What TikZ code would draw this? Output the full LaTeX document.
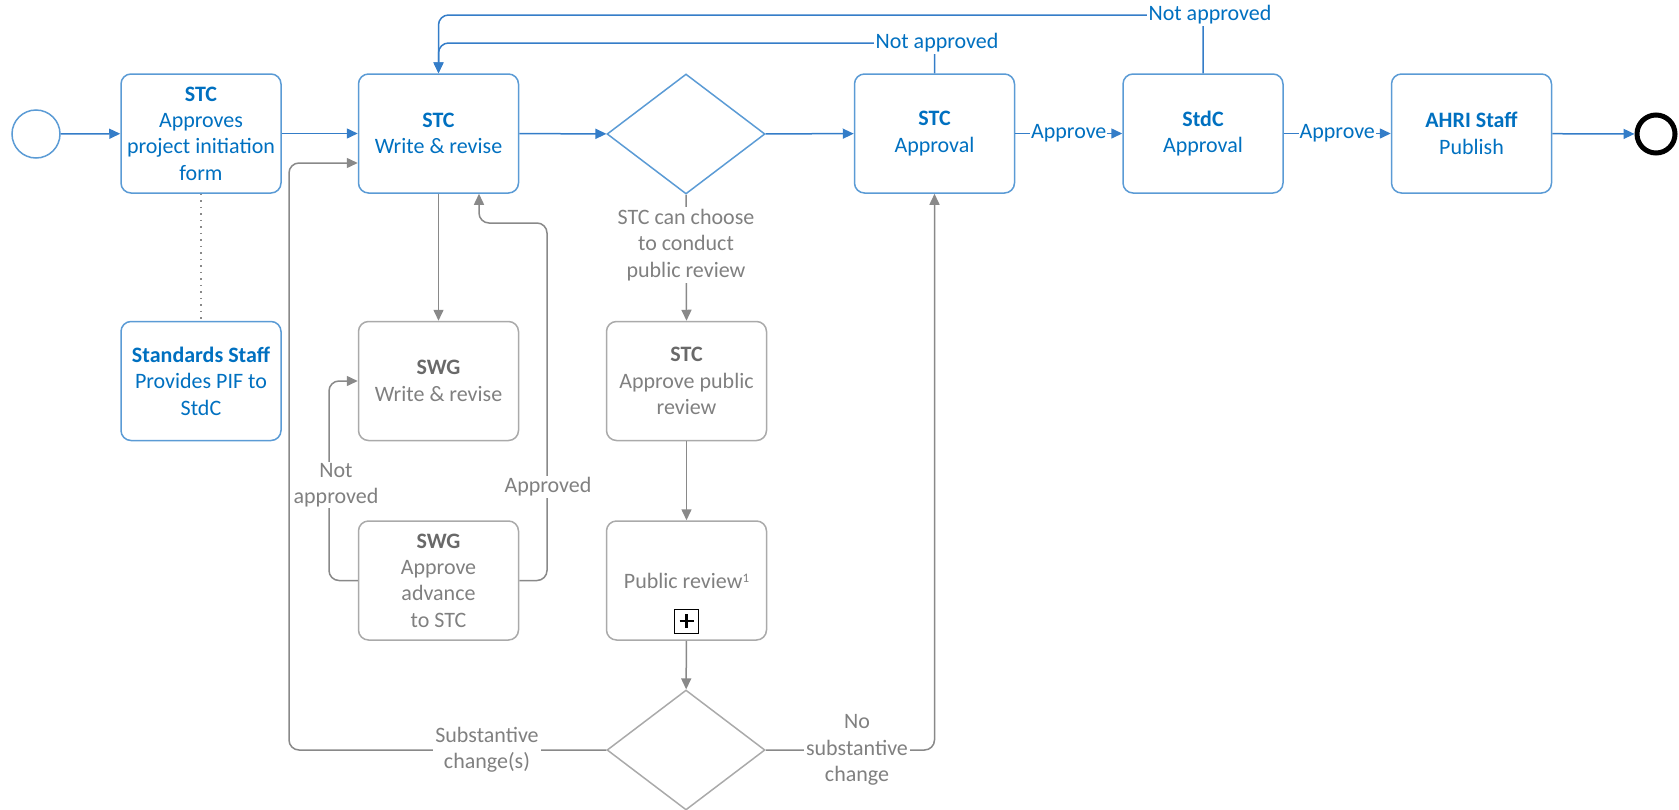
\documentclass[tikz,border=0pt]{standalone}
\usepackage{fontspec}
\setmainfont{Carlito}
\usetikzlibrary{shapes.geometric,arrows.meta,calc}
\definecolor{bluetxt}{RGB}{0,112,192}
\definecolor{bluebd}{RGB}{91,155,213}
\definecolor{blueln}{RGB}{52,125,200}
\definecolor{greytxt}{RGB}{128,128,128}
\definecolor{greyhd}{RGB}{105,105,105}
\definecolor{greybd}{RGB}{170,170,170}
\definecolor{greyln}{RGB}{137,137,137}
\tikzset{
  txt/.style={font=\fontsize{22}{26.4}\selectfont, align=center},
  task/.style={txt, draw=bluebd, line width=1.5pt, rounded corners=10pt,
    minimum width=160pt, minimum height=119pt, text=bluetxt, inner sep=2pt},
  gtask/.style={task, draw=greybd, text=greytxt},
  dia/.style={diamond, minimum width=158pt, minimum height=120pt, inner sep=0pt, line width=1.5pt},
  barrow/.style={draw=blueln, line width=1.5pt, -{Triangle[length=11pt,width=10pt]}},
  garrow/.style={draw=greyln, line width=1.5pt, -{Triangle[length=11pt,width=10pt]}},
  blbl/.style={txt, fill=white, text=bluetxt, inner sep=2pt},
  glbl/.style={txt, fill=white, text=greytxt, inner sep=2pt},
}
\begin{document}
\begin{tikzpicture}[x=1pt,y=-1pt]
\useasboundingbox (0,0) rectangle (1679,809);
% main row
\node[circle, draw=bluebd, line width=1.5pt, minimum size=48pt, inner sep=0pt] (start) at (36,134) {};
\node[task] (b1) at (201,133.5) {\textbf{STC}\\Approves\\project initiation\\form};
\node[task] (b2) at (438.5,133.5) {\textbf{STC}\\Write \& revise};
\node[dia, draw=bluebd] (d1) at (686,134) {};
\node[task] (apr) at (934.5,133.5) {\textbf{STC}\\Approval};
\node[task] (stdc) at (1203,133.5) {\textbf{StdC}\\Approval};
\node[task] (ahri) at (1471.5,133.5) {\textbf{AHRI Staff}\\Publish};
\node[circle, draw=black, line width=5pt, minimum size=38pt, inner sep=0pt] (end) at (1656,134) {};
% lower boxes
\node[task] (ss) at (201,381) {\textbf{Standards Staff}\\Provides PIF to\\StdC};
\node[gtask] (swgw) at (438.5,381) {{\color{greyhd}\textbf{SWG}}\\Write \& revise};
\node[gtask] (swga) at (438.5,580.5) {{\color{greyhd}\textbf{SWG}}\\Approve\\advance\\to STC};
\node[gtask] (apr2) at (686.5,381) {{\color{greyhd}\textbf{STC}}\\Approve public\\review};
\node[gtask] (pr) at (686.5,580.5) {Public review\raisebox{6pt}{\fontsize{13}{13}\selectfont 1}};
\node[draw=black, line width=1pt, minimum size=24pt, inner sep=0pt] (plus) at (686.5,621) {};
\draw[line width=2.4pt] ([xshift=-7pt]plus.center) -- ([xshift=7pt]plus.center);
\draw[line width=2.4pt] ([yshift=-7pt]plus.center) -- ([yshift=7pt]plus.center);
\node[dia, draw=greybd] (d2) at (686,750) {};
% coordinates
\coordinate (t1) at (438.5,43);
\coordinate (t2) at (438.5,15);
\coordinate (ap1) at (547,223);
\coordinate (na) at (329,381);
\coordinate (sb) at (289,163);
% main flow
\draw[barrow] (start) -- (b1);
\draw[barrow] (b1) -- (b2);
\draw[barrow] (b2) -- (d1);
\draw[barrow] (d1) -- (apr);
\draw[barrow] (apr) -- node[blbl, inner sep=1pt] (l1) {Approve} (stdc);
\draw[barrow] (stdc) -- node[blbl, inner sep=1pt] (l2) {Approve} (ahri);
\draw[barrow] (ahri) -- (end);
% top loops
\draw[barrow, rounded corners=10pt] (apr.north) |- (t1) -- (b2.north);
\draw[barrow, rounded corners=10pt] (stdc.north) |- (t2) -- (b2.north);
\node[blbl] (na1) at (937,43) {Not approved};
\node[blbl] (na2) at (1210,15) {Not approved};
% grey flow
\draw[draw=greyln, line width=1.5pt, dash pattern=on 1.5pt off 5pt] (b1.south) -- (ss.north);
\draw[garrow] (b2.south) -- (swgw.north);
\draw[garrow, rounded corners=10pt] (swga.east) -| (ap1) -| ([xshift=40.5pt]b2.south);
\draw[garrow, rounded corners=10pt] (swga.west) -| (na) -- (swgw.west);
\draw[garrow] (d1.south) -- (apr2.north);
\draw[garrow] (apr2) -- (pr);
\draw[garrow] (pr) -- (d2);
\draw[garrow, rounded corners=10pt] (d2.west) -| (sb) -- ([yshift=-29.5pt]b2.west);
\draw[garrow, rounded corners=10pt] (d2.east) -| (apr.south);
% grey labels
\node[glbl] (lap) at (548,487) {Approved};
\node[glbl, inner sep=1pt] (lna) at (336,485) {Not\\approved};
\node[glbl] (lch) at (686,245) {STC can choose\\to conduct\\public review};
\node[glbl] (lsub) at (487,750) {Substantive\\change(s)};
\node[glbl] (lnos) at (857,750) {No\\substantive\\change};
\end{tikzpicture}
\end{document}
